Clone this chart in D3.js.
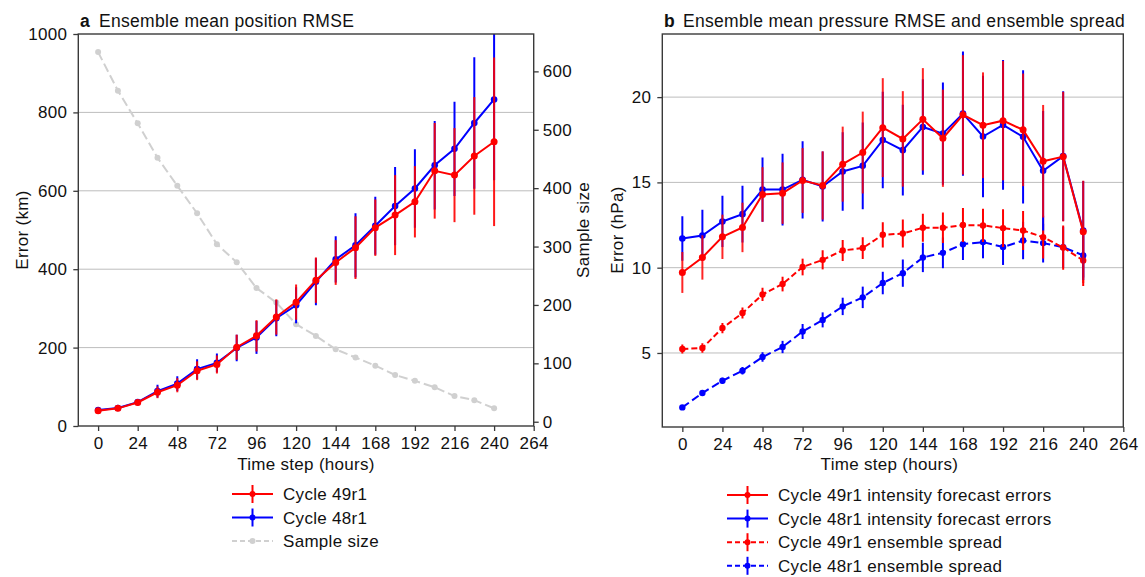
<!DOCTYPE html>
<html><head><meta charset="utf-8">
<script src="https://cdn.jsdelivr.net/npm/d3@7"></script>
<style>
body{margin:0;background:#fff;}
svg text{font-family:"Liberation Sans",Arial,Helvetica,sans-serif;fill:#111;letter-spacing:0.3px;}
</style></head>
<body><svg id="c" width="1145" height="577"></svg>
<script>
// ---------- data ----------
const hours = [0,12,24,36,48,60,72,84,96,108,120,132,144,156,168,180,192,204,216,228,240];
const xTicks = [0,24,48,72,96,120,144,168,192,216,240,264];

// panel a: position RMSE (km)
const posRed = [39,45,60,86,104,141,157,201,230,278,316,372,417,455,506,538,572,651,640,689,725];
const posRedErr = [5,5,7,15,18,24,23,32,40,45,45,58,57,80,72,102,91,122,120,150,215];
const posBlue = [41,46,61,89,108,145,161,199,226,275,308,368,425,461,511,561,606,665,707,773,833];
const posBlueErr = [5,6,8,16,19,25,24,34,42,46,46,60,59,82,74,100,100,113,120,168,206];
const sampleSize = [633,567,511,452,404,357,304,273,229,204,167,147,124,110,96,80,70,59,44,37,23];
const errTicksA = [0,200,400,600,800,1000];
const sampleTicks = [0,100,200,300,400,500,600];

// panel b: pressure RMSE and spread (hPa)
const prRed = [9.72,10.6,11.81,12.36,14.29,14.37,15.11,14.82,16.07,16.75,18.21,17.55,18.7,17.59,18.96,18.35,18.62,18.08,16.24,16.51,12.1];
const prRedErr = [1.2,1.3,1.3,1.45,1.6,1.8,1.9,2.0,2.2,2.4,2.9,2.8,3.0,2.85,3.5,3.1,3.5,3.3,3.3,3.8,3.0];
const prBlue = [11.71,11.89,12.71,13.14,14.58,14.58,15.15,14.76,15.64,15.97,17.49,16.89,18.25,17.86,19.03,17.69,18.37,17.67,15.68,16.54,12.18];
const prBlueErr = [1.3,1.5,1.5,1.66,1.88,2.1,2.26,2.05,2.3,2.54,2.83,2.66,2.8,3.0,3.64,3.56,3.8,3.9,3.5,3.8,2.9];
const spRed = [5.23,5.29,6.46,7.34,8.43,9.04,10.04,10.46,11.01,11.15,11.93,12.0,12.34,12.34,12.5,12.48,12.32,12.18,11.79,11.18,10.42];
const spRedErr = [0.26,0.28,0.3,0.32,0.39,0.43,0.49,0.56,0.62,0.64,0.74,0.82,0.82,0.9,1.0,0.98,1.1,1.15,1.25,1.3,1.5];
const spBlue = [1.81,2.65,3.37,3.96,4.76,5.35,6.26,6.94,7.73,8.26,9.1,9.68,10.6,10.87,11.38,11.5,11.21,11.59,11.44,11.2,10.72];
const spBlueErr = [0.12,0.14,0.18,0.22,0.28,0.36,0.44,0.44,0.51,0.63,0.66,0.8,0.86,0.9,0.93,0.95,1.05,1.1,1.13,1.2,1.3];
const errTicksB = [5,10,15,20];

const legendA = ["Cycle 49r1","Cycle 48r1","Sample size"];
const legendB = ["Cycle 49r1 intensity forecast errors","Cycle 48r1 intensity forecast errors","Cycle 49r1 ensemble spread","Cycle 48r1 ensemble spread"];

// ---------- drawing ----------
const RED="#ff0000", BLUE="#0000ff", GRAY="#d0d0d0", AXC="#3a3a3a", GRID="#bdbdbd";
const svg = d3.select("#c");
const FS = 17;

function frame(x, y, id){
  const [x0,x1]=x.range(), [y0,y1]=y.range();
  svg.append("clipPath").attr("id",id).append("rect")
    .attr("x",x0).attr("y",y1).attr("width",x1-x0).attr("height",y0-y1);
}
function gridlines(g,x,y,vals){
  const [x0,x1]=x.range();
  g.selectAll(null).data(vals).join("line")
    .attr("x1",x0).attr("x2",x1).attr("y1",d=>y(d)).attr("y2",d=>y(d))
    .attr("stroke",GRID).attr("stroke-width",1);
}
function border(g,x,y){
  const [x0,x1]=x.range(), [y0,y1]=y.range();
  g.append("rect").attr("x",x0).attr("y",y1).attr("width",x1-x0).attr("height",y0-y1)
    .attr("fill","none").attr("stroke",AXC).attr("stroke-width",1.4);
}
function styleAxis(sel){
  sel.select(".domain").remove();
  sel.selectAll(".tick line").attr("stroke",AXC).attr("stroke-width",1.3);
  sel.selectAll(".tick text").attr("font-size",FS).attr("fill","#111")
     .style("font-family",'"Liberation Sans",Arial,sans-serif');
}
function series(g,x,y,vals,errs,color,opts){
  const pts = hours.map((h,i)=>({h,v:vals[i],e:errs?errs[i]:0}));
  if(errs){
    g.selectAll(null).data(pts).join("line")
      .attr("x1",d=>x(d.h)).attr("x2",d=>x(d.h))
      .attr("y1",d=>y(d.v-d.e)).attr("y2",d=>y(d.v+d.e))
      .attr("stroke",color).attr("stroke-width",2).attr("opacity",opts.barOp||1);
  }
  g.append("path").datum(pts)
    .attr("d",d3.line().x(d=>x(d.h)).y(d=>y(d.v)))
    .attr("fill","none").attr("stroke",color).attr("stroke-width",opts.lw||2)
    .attr("stroke-dasharray",opts.dash||null);
  g.selectAll(null).data(pts).join("circle")
    .attr("cx",d=>x(d.h)).attr("cy",d=>y(d.v)).attr("r",opts.r||3.3).attr("fill",color);
}
function legend(items,x0,y0,dy,styles){
  items.forEach((t,i)=>{
    const y=y0+i*dy, s=styles[i];
    const g=svg.append("g");
    g.append("line").attr("x1",x0).attr("x2",x0+41).attr("y1",y).attr("y2",y)
      .attr("stroke",s.c).attr("stroke-width",2).attr("stroke-dasharray",s.dash||null);
    if(s.bar) g.append("line").attr("x1",x0+20.5).attr("x2",x0+20.5).attr("y1",y-9).attr("y2",y+9)
      .attr("stroke",s.c).attr("stroke-width",2);
    g.append("circle").attr("cx",x0+20.5).attr("cy",y).attr("r",3).attr("fill",s.c);
    g.append("text").attr("x",x0+51).attr("y",y).attr("dy","0.36em").attr("font-size",FS).text(t);
  });
}

// ---- panel a ----
const xA = d3.scaleLinear([-12,264],[78.3,533.7]);
const yA = d3.scaleLinear([0,1000],[426,34]);
const yS = d3.scaleLinear([-7.3,664],[426,34]);
const gA = svg.append("g");
frame(xA,yA,"clipA");
gridlines(gA,xA,yA,errTicksA.slice(1,-1));
const dA = gA.append("g").attr("clip-path","url(#clipA)");
series(dA,xA,yS,sampleSize,null,GRAY,{dash:"9,4",r:3});
series(dA,xA,yA,posBlue,posBlueErr,BLUE,{r:3.3});
series(dA,xA,yA,posRed,posRedErr,RED,{r:3.5,barOp:0.9});
border(gA,xA,yA);
gA.append("g").attr("transform","translate(0,426)")
  .call(d3.axisBottom(xA).tickValues(xTicks).tickSize(5).tickPadding(6)).call(styleAxis);
gA.append("g").attr("transform","translate(78.3,0)")
  .call(d3.axisLeft(yA).tickValues(errTicksA).tickFormat(d3.format("d")).tickSize(5).tickPadding(6)).call(styleAxis);
gA.append("g").attr("transform","translate(533.7,0)")
  .call(d3.axisRight(yS).tickValues(sampleTicks).tickSize(5).tickPadding(4)).call(styleAxis);
svg.append("text").attr("x",80).attr("y",26.5).attr("font-size",FS+0.5).attr("font-weight","bold").text("a");
svg.append("text").attr("x",99).attr("y",26.5).attr("font-size",FS+0.5).text("Ensemble mean position RMSE");
svg.append("text").attr("transform","translate(28,230) rotate(-90)").attr("text-anchor","middle").attr("font-size",FS).text("Error (km)");
svg.append("text").attr("transform","translate(589,230) rotate(-90)").attr("text-anchor","middle").attr("font-size",FS).text("Sample size");
svg.append("text").attr("x",xA(126)).attr("y",470).attr("text-anchor","middle").attr("font-size",FS).text("Time step (hours)");
legend(legendA,232,494,23.5,[{c:RED,bar:true},{c:BLUE,bar:true},{c:GRAY,dash:"5,3"}]);

// ---- panel b ----
const xB = d3.scaleLinear([-12,264],[662.3,1123.3]);
const yB = d3.scaleLinear([0.66,23.7],[427,34]);
const gB = svg.append("g");
frame(xB,yB,"clipB");
gridlines(gB,xB,yB,errTicksB);
const dB = gB.append("g").attr("clip-path","url(#clipB)");
series(dB,xB,yB,spBlue,spBlueErr,BLUE,{dash:"8,4",r:3.2});
series(dB,xB,yB,spRed,spRedErr,RED,{dash:"6,3",r:3.2});
series(dB,xB,yB,prBlue,prBlueErr,BLUE,{r:3.3});
series(dB,xB,yB,prRed,prRedErr,RED,{r:3.5,barOp:0.85});
border(gB,xB,yB);
gB.append("g").attr("transform","translate(0,427)")
  .call(d3.axisBottom(xB).tickValues(xTicks).tickSize(5).tickPadding(6)).call(styleAxis);
gB.append("g").attr("transform","translate(662.3,0)")
  .call(d3.axisLeft(yB).tickValues(errTicksB).tickSize(5).tickPadding(6)).call(styleAxis);
svg.append("text").attr("x",664).attr("y",26.5).attr("font-size",FS+0.5).attr("font-weight","bold").text("b");
svg.append("text").attr("x",683).attr("y",26.5).attr("font-size",FS+0.5).text("Ensemble mean pressure RMSE and ensemble spread");
svg.append("text").attr("transform","translate(623,230) rotate(-90)").attr("text-anchor","middle").attr("font-size",FS).text("Error (hPa)");
svg.append("text").attr("x",xB(124)).attr("y",470).attr("text-anchor","middle").attr("font-size",FS).text("Time step (hours)");
legend(legendB,727,495,23.6,[{c:RED,bar:true},{c:BLUE,bar:true},{c:RED,bar:true,dash:"5,3"},{c:BLUE,bar:true,dash:"5,3"}]);
</script></body></html>
